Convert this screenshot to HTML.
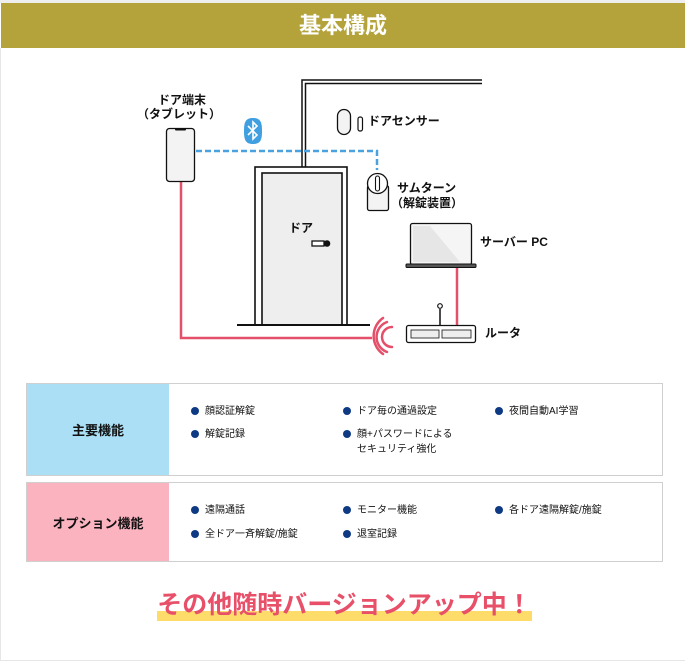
<!DOCTYPE html>
<html><head><meta charset="utf-8"><style>
html,body{margin:0;padding:0;background:#fff}
body{width:685px;height:661px;position:relative;overflow:hidden;font-family:"Liberation Sans","Noto Sans CJK JP",sans-serif;color:#111}
.a{position:absolute;white-space:nowrap}
.hd{position:absolute;left:1px;top:3px;width:684px;height:45px;background:#b3a33a;color:#fff;font-weight:bold;font-size:22px;text-align:center;line-height:45px}
.box{position:absolute;left:26px;width:635px;border:1px solid #cfcfcf;background:#fff}
.lab{position:absolute;left:0;top:0;bottom:0;width:142px;font-weight:bold;font-size:13px;display:flex;align-items:center;justify-content:center}
.it{position:absolute;font-size:10px;line-height:15px}
.it:before{content:"";position:absolute;left:-14px;top:3px;width:8px;height:8px;border-radius:50%;background:#0e3a84}
.lb{font-size:12px;font-weight:bold;position:absolute;white-space:nowrap;line-height:15px}
</style></head><body>
<div style="position:absolute;left:0;top:0;width:685px;height:3px;background:#eee"></div>
<div style="position:absolute;left:0;top:48px;width:684px;height:612px;border-left:1px solid #e6e6e6;border-right:1px solid #e6e6e6;border-bottom:1px solid #e6e6e6"></div>
<div class="hd">基本構成</div>
<svg width="685" height="661" style="position:absolute;left:0;top:0">
<g fill="none" stroke="#111">
<path d="M302 167V80H482M305.5 167V83.5H482" stroke-width="1.5"/>
</g>
<path d="M196 151H377V170" fill="none" stroke="#4aa3e0" stroke-width="2.5" stroke-dasharray="6 3"/>
<path d="M181 181V338H372" fill="none" stroke="#e4506a" stroke-width="2.5"/>
<path d="M457 268V326" fill="none" stroke="#e4506a" stroke-width="2.5"/>
<rect x="166.5" y="128.5" width="28" height="53" rx="3" fill="#f3f3f3" stroke="#111" stroke-width="1.3"/>
<rect x="175" y="128" width="11" height="2.5" rx="1" fill="#111"/>
<path d="M253 118c8 0 9 5 9 13s-1 13-9 13-9-5-9-13 1-13 9-13z" fill="#3f9fe0"/>
<path d="M248 126l9 9-4 4v-17l4 4-9 9" fill="none" stroke="#fff" stroke-width="1.6"/>
<rect x="255" y="167" width="92" height="158" fill="#fff" stroke="#111" stroke-width="1.6"/>
<rect x="262" y="173" width="80" height="152" fill="#eee" stroke="#111" stroke-width="1.6"/>
<path d="M237 325H370" stroke="#111" stroke-width="2"/>
<rect x="312" y="241" width="12" height="5" fill="#fff" stroke="#111" stroke-width="1.3"/>
<circle cx="327" cy="243.5" r="3.3" fill="#111"/>
<rect x="337.5" y="109.5" width="13" height="25" rx="6.5" fill="#f3f3f3" stroke="#111" stroke-width="1.3"/>
<rect x="358" y="117" width="4.5" height="14" rx="2" fill="#fff" stroke="#111" stroke-width="1.2"/>
<rect x="367.5" y="185.5" width="21" height="25" rx="2" fill="#f3f3f3" stroke="#111" stroke-width="1.3"/>
<circle cx="377.5" cy="183.5" r="10" fill="#fff" stroke="#111" stroke-width="1.3"/>
<rect x="375.5" y="176" width="4" height="15" rx="2" fill="#fff" stroke="#111" stroke-width="1.1"/>
<rect x="410.5" y="223.5" width="61" height="41" rx="2" fill="#f5f5f5" stroke="#111" stroke-width="1.3"/>
<path d="M413 226h17l30 36h-47z" fill="#e6e6e6"/>
<rect x="406" y="264" width="70" height="3.5" rx="1" fill="#555" stroke="#111"/>
<path d="M440 326V309" stroke="#111" stroke-width="1.5"/>
<circle cx="440" cy="306" r="2.3" fill="#fff" stroke="#111" stroke-width="1.2"/>
<rect x="406.5" y="325.5" width="69" height="17" rx="2" fill="#fff" stroke="#111" stroke-width="1.3"/>
<rect x="411" y="330" width="28" height="8" fill="#eee" stroke="#111" stroke-width="0.8"/>
<rect x="442" y="330" width="29" height="8" fill="#eee" stroke="#111" stroke-width="0.8"/>
<g fill="none" stroke="#e4506a" stroke-width="2.5" stroke-linecap="round">
<path d="M392 327a10 10 0 0 0 0 20"/>
<path d="M387 322a16 16 0 0 0 0 30"/>
<path d="M383 318a22 22 0 0 0 0 36"/>
</g>
</svg>
<div class="lb" style="left:158px;top:93px">ドア端末</div>
<div class="lb" style="left:137px;top:107px">（タブレット）</div>
<div class="lb" style="left:368px;top:114px">ドアセンサー</div>
<div class="lb" style="left:397px;top:181px">サムターン</div>
<div class="lb" style="left:391px;top:196px">（解錠装置）</div>
<div class="lb" style="left:289px;top:221px">ドア</div>
<div class="lb" style="left:480px;top:235px">サーバー PC</div>
<div class="lb" style="left:485px;top:326px">ルータ</div>
<div class="box" style="top:383px;height:91px">
<div class="lab" style="background:#aadff5">主要機能</div>
<div class="it" style="left:178px;top:20px">顔認証解錠</div>
<div class="it" style="left:330px;top:20px">ドア毎の通過設定</div>
<div class="it" style="left:482px;top:20px">夜間自動AI学習</div>
<div class="it" style="left:178px;top:43px">解錠記録</div>
<div class="it" style="left:330px;top:43px">顔+パスワードによる<br>セキュリティ強化</div>
</div>
<div class="box" style="top:482px;height:78px">
<div class="lab" style="background:#fbb3c0">オプション機能</div>
<div class="it" style="left:178px;top:20px">遠隔通話</div>
<div class="it" style="left:330px;top:20px">モニター機能</div>
<div class="it" style="left:482px;top:20px">各ドア遠隔解錠/施錠</div>
<div class="it" style="left:178px;top:44px">全ドア一斉解錠/施錠</div>
<div class="it" style="left:330px;top:44px">退室記録</div>
</div>
<div style="position:absolute;left:157px;top:611px;width:375px;height:10px;background:#fddc6a"></div>
<div class="a" style="left:147px;width:395px;text-align:center;top:590px;font-size:25px;font-weight:bold;color:#e8506a;line-height:30px">その他随時バージョンアップ中！</div>
</body></html>
